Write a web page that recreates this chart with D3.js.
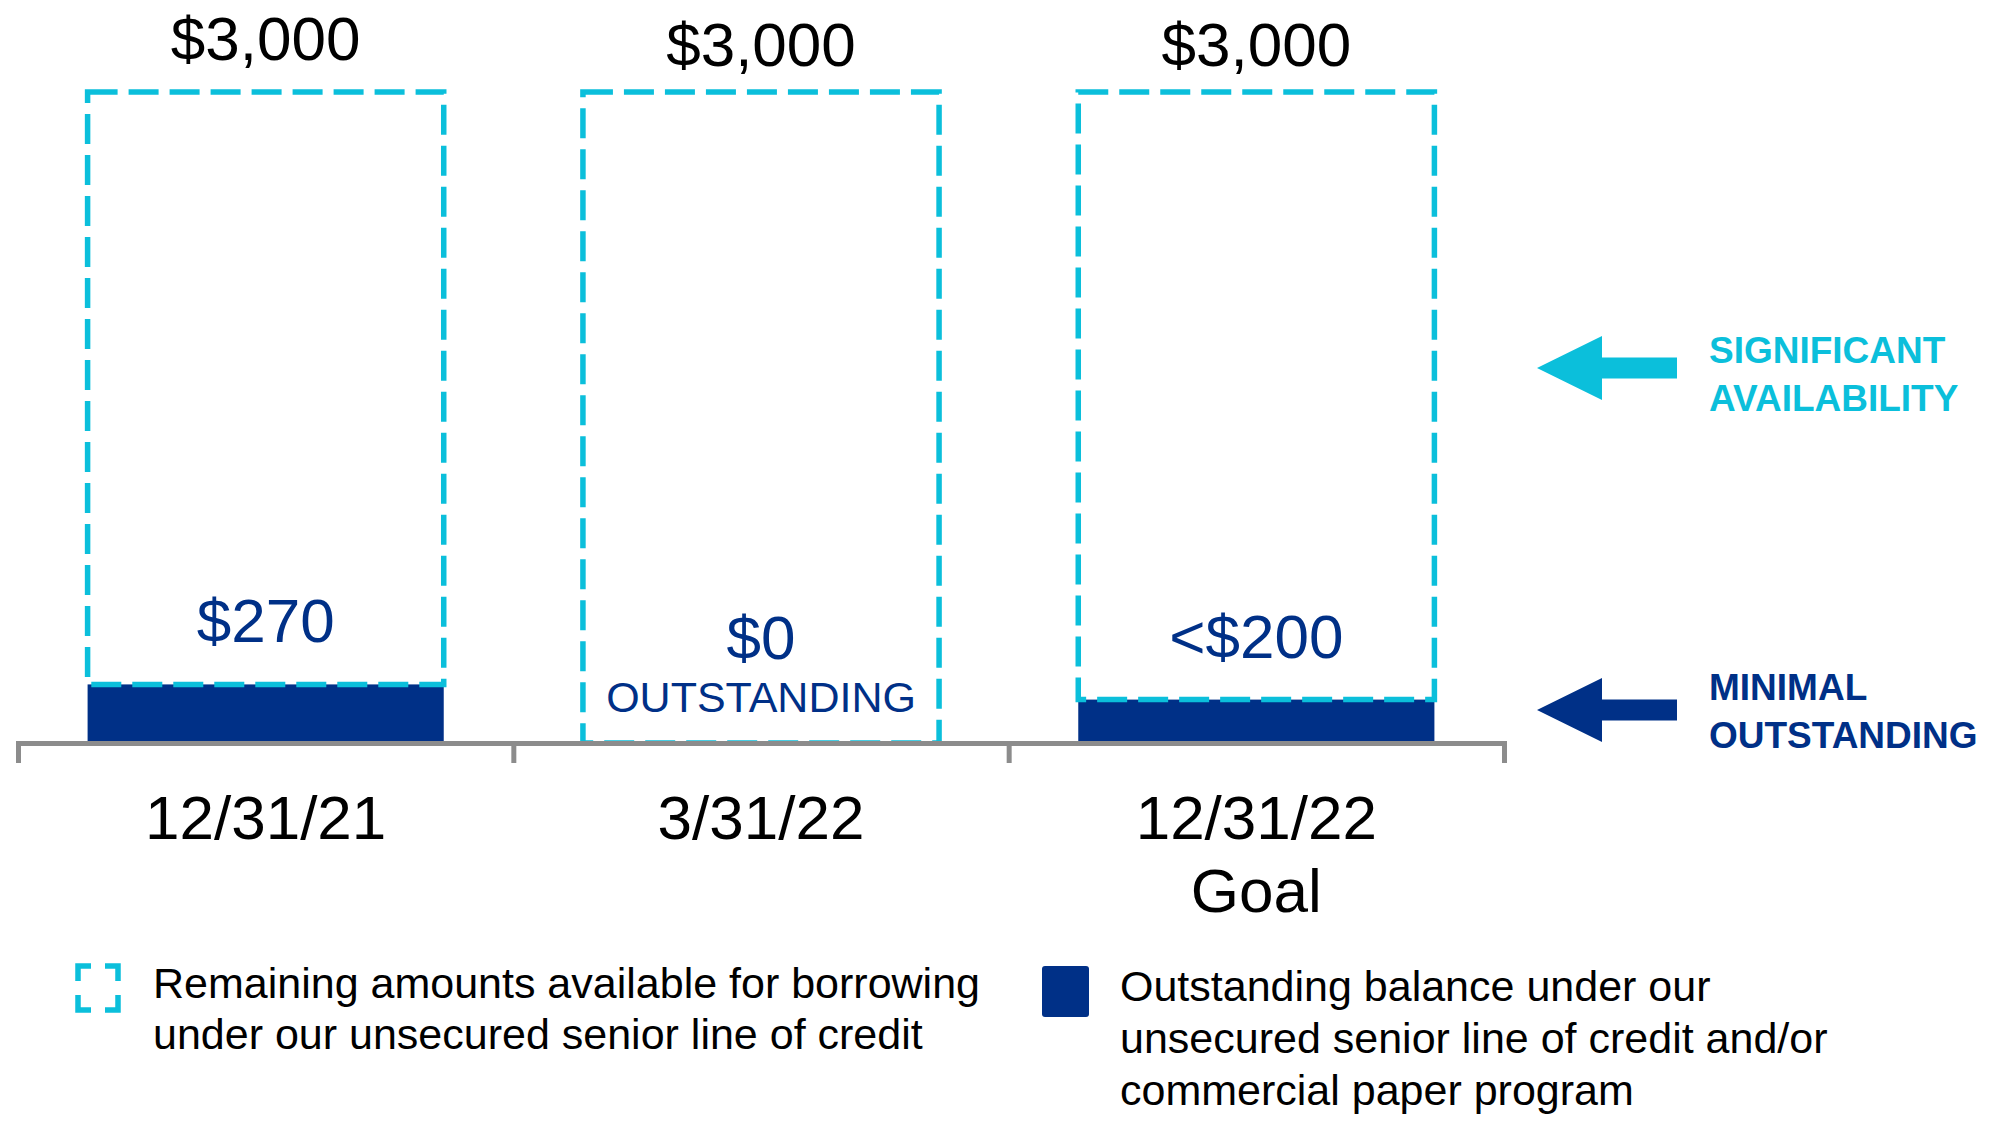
<!DOCTYPE html>
<html>
<head>
<meta charset="utf-8">
<script src="https://cdn.jsdelivr.net/npm/d3@7"></script>
<style>
  body { margin: 0; background: #fff; }
  svg { display: block; font-family: "Liberation Sans", Arial, sans-serif; }
</style>
</head>
<body>
<svg id="chart" width="2000" height="1135"></svg>
<script>
// values ($ millions)
const categories = ["12/31/21", "3/31/22", "12/31/22"];
const categoryNotes = ["", "", "Goal"];
const lineOfCredit = [3000, 3000, 3000];
const outstanding = [270, 0, 200];
const totalLabels = ["$3,000", "$3,000", "$3,000"];
const outstandingLabels = ["$270", "$0", "<$200"];
const outstandingNotes = ["", "OUTSTANDING", ""];

const cyan = "#0bbfdb";
const navy = "#003087";
const grey = "#8c8c8c";

const svg = d3.select("#chart");

const x = d3.scaleBand()
  .domain(categories)
  .range([18, 1504])
  .paddingInner(0.281)
  .paddingOuter(0.1405);
// band edges, for the ticks between categories
const edge = d3.scaleLinear()
  .domain([0, categories.length])
  .range([18, 1504]);
const y = d3.scaleLinear()
  .domain([0, 3000])
  .range([743, 92]);

const data = categories.map((c, i) => ({
  cat: c,
  total: lineOfCredit[i],
  out: outstanding[i],
  totalLabel: totalLabels[i],
  outLabel: outstandingLabels[i],
  outNote: outstandingNotes[i]
}));

// outstanding balance
svg.append("g")
  .selectAll("rect")
  .data(data)
  .enter()
  .append("rect")
  .attr("x", d => x(d.cat))
  .attr("y", d => y(d.out))
  .attr("width", x.bandwidth())
  .attr("height", d => y(0) - y(d.out))
  .attr("fill", navy);

// remaining availability (dashed outline)
svg.append("g")
  .selectAll("rect")
  .data(data)
  .enter()
  .append("rect")
  .attr("x", d => x(d.cat))
  .attr("y", d => y(d.total))
  .attr("width", x.bandwidth())
  .attr("height", d => y(d.out) - y(d.total))
  .attr("fill", "none")
  .attr("stroke", cyan)
  .attr("stroke-width", 5.5)
  .attr("stroke-dasharray", "30,11");

// axis line with ticks at the band edges
const edgeAxis = d3.axisBottom(edge)
  .tickValues(d3.range(categories.length + 1))
  .tickSize(20)
  .tickSizeOuter(0)
  .tickFormat("");
const ga = svg.append("g")
  .attr("transform", `translate(0,${y(0)})`)
  .attr("color", grey)
  .call(edgeAxis);
ga.selectAll("path, line").attr("stroke-width", 5);
ga.select(".domain").attr("stroke-linecap", "square");

// category labels
const labelAxis = d3.axisBottom(x)
  .tickSize(0)
  .tickPadding(52);
const gl = svg.append("g")
  .attr("transform", `translate(0,${y(0)})`)
  .call(labelAxis);
gl.select(".domain").remove();
gl.selectAll("text")
  .attr("fill", "#000")
  .attr("font-size", 62)
  .attr("font-family", "Liberation Sans, Arial, sans-serif")
  .each(function(d, i) {
    if (categoryNotes[i]) {
      d3.select(this).append("tspan")
        .attr("x", 0)
        .attr("dy", "1.18em")
        .text(categoryNotes[i]);
    }
  });

// total labels above the boxes
svg.append("g")
  .selectAll("text")
  .data(data)
  .enter()
  .append("text")
  .attr("x", d => x(d.cat) + x.bandwidth() / 2)
  .attr("y", (d, i) => y(d.total) - (i === 0 ? 32 : 26))
  .attr("text-anchor", "middle")
  .attr("font-size", 62)
  .attr("fill", "#000")
  .text(d => d.totalLabel);

// outstanding labels
const outG = svg.append("g")
  .selectAll("g")
  .data(data)
  .enter()
  .append("g")
  .attr("transform", d => `translate(${x(d.cat) + x.bandwidth() / 2},${y(d.out)})`)
  .attr("fill", navy)
  .attr("text-anchor", "middle");
outG.append("text")
  .attr("y", d => d.outNote ? -84 : -42)
  .attr("font-size", 62)
  .text(d => d.outLabel);
outG.filter(d => d.outNote)
  .append("text")
  .attr("y", -31)
  .attr("font-size", 43)
  .text(d => d.outNote);

// side call-outs
const callouts = [
  { y: 368, textY: 363, color: cyan, lines: ["SIGNIFICANT", "AVAILABILITY"] },
  { y: 710, textY: 700, color: navy, lines: ["MINIMAL", "OUTSTANDING"] }
];
const arrow = (cy) => {
  const p = d3.path();
  p.moveTo(1537, cy);
  p.lineTo(1602, cy - 32);
  p.lineTo(1602, cy - 10.5);
  p.lineTo(1677, cy - 10.5);
  p.lineTo(1677, cy + 10.5);
  p.lineTo(1602, cy + 10.5);
  p.lineTo(1602, cy + 32);
  p.closePath();
  return p.toString();
};
const co = svg.append("g")
  .selectAll("g")
  .data(callouts)
  .enter()
  .append("g");
co.append("path")
  .attr("d", d => arrow(d.y))
  .attr("fill", d => d.color);
co.append("text")
  .attr("x", 1709)
  .attr("y", d => d.textY)
  .attr("font-size", 37)
  .attr("font-weight", "bold")
  .attr("fill", d => d.color)
  .selectAll("tspan")
  .data(d => d.lines)
  .enter()
  .append("tspan")
  .attr("x", 1709)
  .attr("dy", (d, i) => i ? 48 : 0)
  .text(d => d);

// legend
const legend = svg.append("g");
legend.append("rect")
  .attr("x", 78).attr("y", 966)
  .attr("width", 40).attr("height", 44)
  .attr("fill", "none")
  .attr("stroke", cyan)
  .attr("stroke-width", 5.5)
  .attr("stroke-dasharray", "13,14,28,14,28,14,28,14,15");
legend.append("text")
  .attr("x", 153).attr("y", 998)
  .attr("font-size", 43)
  .selectAll("tspan")
  .data(["Remaining amounts available for borrowing", "under our unsecured senior line of credit"])
  .enter()
  .append("tspan")
  .attr("x", 153)
  .attr("dy", (d, i) => i ? 51 : 0)
  .text(d => d);
legend.append("rect")
  .attr("x", 1042).attr("y", 966)
  .attr("width", 47).attr("height", 51)
  .attr("rx", 3)
  .attr("fill", navy);
legend.append("text")
  .attr("x", 1120).attr("y", 1001)
  .attr("font-size", 43)
  .selectAll("tspan")
  .data(["Outstanding balance under our", "unsecured senior line of credit and/or", "commercial paper program"])
  .enter()
  .append("tspan")
  .attr("x", 1120)
  .attr("dy", (d, i) => i ? 52 : 0)
  .text(d => d);
</script>
</body>
</html>
